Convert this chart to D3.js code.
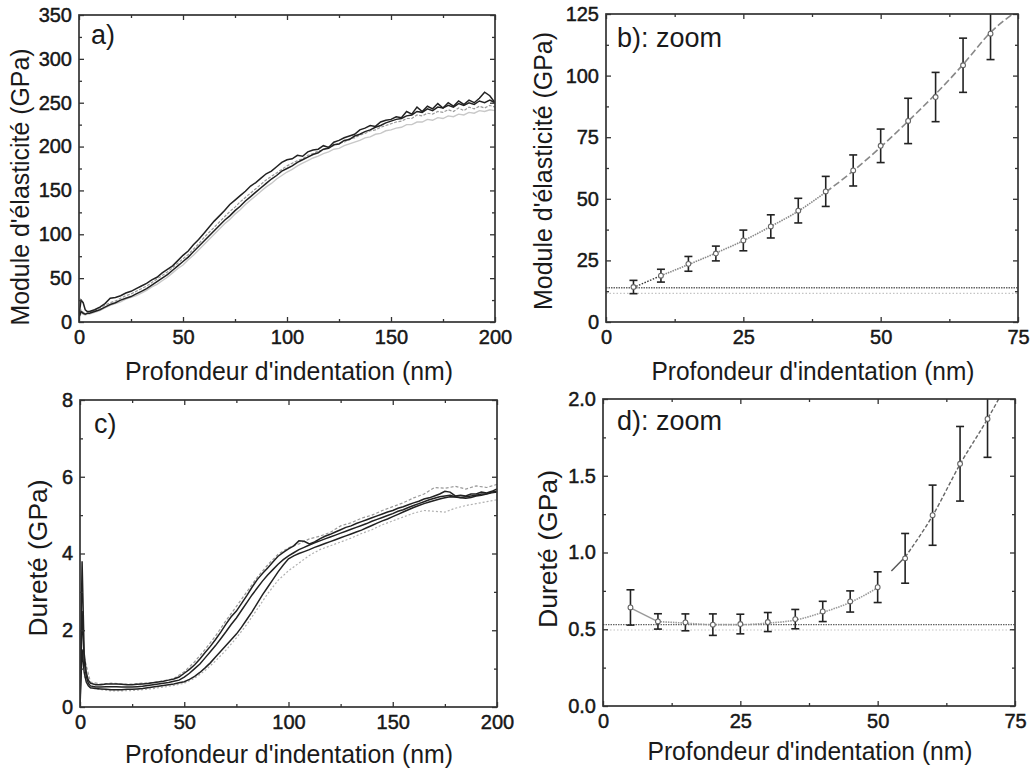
<!DOCTYPE html>
<html><head><meta charset="utf-8">
<script src="https://cdn.jsdelivr.net/npm/d3@7"></script>
<style>
body{margin:0;background:#fff}
text{font-family:"Liberation Sans",Arial,Helvetica,sans-serif;fill:#1a1a1a}
</style>
</head><body><svg id="c" width="1032" height="770"></svg>
<script>
// ---------- DATA ----------
const depthFine = [0,1,2,3,4,5,7.5,10,12.5,15,17.5,20,22.5,25,27.5,30,32.5,35,37.5,40,42.5,45,47.5,50,52.5,55,57.5,60,62.5,65,67.5,70,72.5,75,77.5,80,82.5,85,87.5,90,92.5,95,97.5,100,102.5,105,107.5,110,112.5,115,117.5,120,122.5,125,127.5,130,132.5,135,137.5,140,142.5,145,147.5,150,152.5,155,157.5,160,162.5,165,167.5,170,172.5,175,177.5,180,182.5,185,187.5,190,192.5,195,197.5,200];
const depthCoarse = [2,5,10,15,20,25,30,35,40,45,50,55,60,65,70,75,80,85,90,95,100,105,110,115,120,125,130,135,140,145,150,155,160,165,170,175,180,185,190,195,200];

// Panel a: modulus (GPa)
const modulusBlack1 = [8,25,22,14,12,12,14,17,21,27,28,30,33,35,38,41,44,48,51,56,60,64,70,76,81,88,94,101,108,115,121,127,134,139,144,149,155,159,164,169,172,177,182,185,186,190,189,194,196,197,201,199,205,207,210,212,214,219,221,224,223,228,230,231,234,233,240,237,245,240,246,243,249,244,250,246,252,248,253,250,255,262,258,250];
const modulusBlack2 = [5,12,10,9,10,10,12,14,17,20,22,25,27,29,32,35,38,42,46,50,54,59,64,69,74,80,86,92,98,104,110,116,121,127,132,138,143,148,153,158,163,167,172,175,178,182,185,188,191,193,197,198,202,203,207,208,212,214,217,219,222,224,227,229,231,232,235,236,240,239,243,241,245,244,247,245,249,247,250,248,252,250,253,250];
const modulusGray1 = [6,14,11,10,10,11,13,16,19,22,24,27,30,32,35,38,41,45,49,53,57,62,67,72,77,83,89,96,102,108,114,120,126,131,137,142,147,152,157,162,166,170,174,178,181,184,186,190,192,195,196,200,201,204,205,209,210,213,215,218,219,222,224,226,228,229,232,232,236,235,238,237,240,239,242,240,244,241,245,243,246,244,247,245];
const modulusGray2 = [4,10,9,8,9,9,11,13,16,19,21,23,26,28,30,33,36,40,43,47,51,56,61,65,71,76,82,88,94,100,106,112,117,123,128,134,139,144,149,154,158,163,167,171,174,178,181,184,187,189,192,194,197,198,201,203,205,207,210,211,214,215,218,219,221,222,225,225,228,228,231,230,233,232,235,234,237,236,239,238,241,240,242,241];

// Panel c: hardness (GPa)
const hardBlack1 = [0,3.8,1.4,0.9,0.7,0.62,0.58,0.58,0.6,0.6,0.6,0.59,0.58,0.58,0.59,0.6,0.61,0.63,0.65,0.67,0.7,0.73,0.78,0.88,0.98,1.1,1.25,1.42,1.58,1.76,1.95,2.16,2.35,2.5,2.7,2.9,3.12,3.32,3.48,3.62,3.78,3.93,4.03,4.12,4.2,4.33,4.32,4.25,4.3,4.38,4.45,4.5,4.56,4.62,4.68,4.72,4.78,4.83,4.88,4.93,4.98,5.03,5.08,5.12,5.18,5.22,5.27,5.32,5.36,5.42,5.45,5.5,5.55,5.62,5.6,5.5,5.52,5.5,5.55,5.55,5.6,5.58,5.62,5.68];
const hardBlack2 = [0,2.5,1.2,0.8,0.62,0.55,0.52,0.52,0.53,0.53,0.53,0.52,0.52,0.52,0.53,0.54,0.56,0.58,0.6,0.62,0.64,0.67,0.7,0.78,0.88,1.0,1.12,1.28,1.44,1.6,1.78,1.96,2.15,2.32,2.52,2.72,2.92,3.1,3.28,3.44,3.58,3.72,3.84,3.94,4.02,4.1,4.16,4.22,4.28,4.33,4.38,4.43,4.48,4.53,4.58,4.63,4.68,4.73,4.78,4.84,4.89,4.94,4.99,5.04,5.1,5.14,5.2,5.25,5.3,5.35,5.4,5.44,5.48,5.5,5.52,5.48,5.46,5.48,5.5,5.52,5.55,5.56,5.6,5.62];
const hardBlack3 = [0,1.5,0.9,0.65,0.55,0.5,0.48,0.47,0.46,0.45,0.45,0.45,0.46,0.46,0.47,0.48,0.5,0.52,0.54,0.56,0.58,0.6,0.63,0.66,0.72,0.8,0.9,1.02,1.15,1.3,1.45,1.6,1.75,1.9,2.08,2.28,2.48,2.7,2.92,3.12,3.32,3.52,3.7,3.86,3.94,4.0,4.05,4.1,4.16,4.21,4.26,4.31,4.36,4.41,4.46,4.51,4.56,4.61,4.67,4.73,4.79,4.85,4.9,4.96,5.02,5.08,5.14,5.2,5.25,5.3,5.34,5.38,5.42,5.45,5.48,5.47,5.45,5.44,5.46,5.5,5.52,5.55,5.58,5.6];
const hardGray1 = [1.3,0.65,0.6,0.62,0.6,0.6,0.62,0.64,0.68,0.74,0.92,1.18,1.5,1.85,2.25,2.62,3.0,3.38,3.7,3.98,4.15,4.25,4.38,4.45,4.55,4.72,4.8,4.92,5.0,5.12,5.22,5.32,5.45,5.55,5.72,5.7,5.75,5.68,5.76,5.72,5.8];
const hardGray2 = [0.8,0.5,0.45,0.42,0.42,0.43,0.45,0.48,0.52,0.56,0.62,0.75,0.95,1.2,1.48,1.8,2.15,2.55,2.95,3.3,3.55,3.75,3.95,4.1,4.2,4.3,4.4,4.52,4.62,4.75,4.85,4.95,5.05,5.12,5.1,5.08,5.18,5.25,5.3,5.35,5.4];

// Panel b: zoom on modulus, mean +/- error
const zoomDepth = [5,10,15,20,25,30,35,40,45,50,55,60,65,70];
const modulusMean = [14.2,18.8,23.6,27.8,33.1,38.8,45.2,53.0,61.5,71.5,81.6,91.3,104.2,117.0];
const modulusErr = [2.7,2.6,3.0,3.0,4.2,4.7,5.0,6.1,6.3,6.8,9.2,10.0,11.0,10.5];
const modulusFitDepth = [5,10,15,20,25,30,35,40,45,50,55,60,65,70,75];
const modulusFit = [14.0,18.8,23.3,28.0,33.0,38.8,45.0,52.7,61.3,71.0,81.5,92.5,104.5,117.5,126.5];
const modulusBaseline = [13.9,11.6];

// Panel d: zoom on hardness, mean +/- error
const hardMean = [0.642,0.551,0.545,0.530,0.534,0.547,0.566,0.616,0.681,0.774,0.962,1.243,1.578,1.87];
const hardErr = [0.115,0.05,0.055,0.07,0.064,0.062,0.063,0.066,0.069,0.1,0.162,0.196,0.243,0.25];
const hardFitDepth = [5,10,15,20,25,30,35,40,45,50,52.5,55,60,65,70,72.5];
const hardFit = [0.64,0.55,0.54,0.53,0.53,0.54,0.56,0.61,0.675,0.77,0.88,0.97,1.24,1.575,1.87,2.03];
const hardBaseline = [0.53,0.495];

const xTitle = "Profondeur d'indentation (nm)";
const yTitleModulus = "Module d'élasticité (GPa)";
const yTitleHard = "Dureté (GPa)";
const panelLabels = ["a)","b): zoom","c)","d): zoom"];

// ---------- DRAW ----------
const svg = d3.select("#c");
svg.append("rect").attr("width",1032).attr("height",770).attr("fill","#fff");

function makePanel(o){
  const x = d3.scaleLinear().domain(o.xd).range([o.l,o.r]);
  const y = d3.scaleLinear().domain(o.yd).range([o.b,o.t]);
  const g = svg.append("g");
  const cid = "clip"+o.id;
  svg.append("clipPath").attr("id",cid).append("rect")
    .attr("x",o.l).attr("y",o.t).attr("width",o.r-o.l).attr("height",o.b-o.t);
  const plot = g.append("g").attr("clip-path",`url(#${cid})`);

  const axisStyle = s=>{ s.select(".domain").remove(); s.selectAll("line").attr("stroke","#333").attr("stroke-width",1.3);
    s.selectAll("text").attr("font-size",20).attr("fill","#111").attr("stroke","#111").attr("stroke-width",0.45); };
  const addAx = (fn, sc, vals, len, fmt, tr, pad)=>{
    g.append("g").attr("transform",tr)
     .call(fn(sc).tickValues(vals).tickSizeInner(-len).tickSizeOuter(0).tickPadding(pad).tickFormat(fmt))
     .call(axisStyle);
  };
  addAx(d3.axisBottom,x,o.xMajor,5,o.xFmt,`translate(0,${o.b})`,8);
  addAx(d3.axisBottom,x,o.xMinor,3,()=>"",`translate(0,${o.b})`,8);
  addAx(d3.axisTop,x,o.xMajor,5,()=>"",`translate(0,${o.t})`,8);
  addAx(d3.axisTop,x,o.xMinor,3,()=>"",`translate(0,${o.t})`,8);
  addAx(d3.axisLeft,y,o.yMajor,5,o.yFmt,`translate(${o.l},0)`,7);
  addAx(d3.axisLeft,y,o.yMinor,3,()=>"",`translate(${o.l},0)`,7);
  addAx(d3.axisRight,y,o.yMajor,5,()=>"",`translate(${o.r},0)`,7);
  addAx(d3.axisRight,y,o.yMinor,3,()=>"",`translate(${o.r},0)`,7);

  g.append("rect").attr("x",o.l).attr("y",o.t).attr("width",o.r-o.l).attr("height",o.b-o.t)
    .attr("fill","none").attr("stroke","#333").attr("stroke-width",1.7);

  g.append("text").attr("x",o.xtX).attr("y",o.xtY).attr("text-anchor","middle")
    .attr("font-size",25).attr("textLength",o.xtLen).attr("lengthAdjust","spacingAndGlyphs").text(xTitle);
  g.append("text").attr("transform",`translate(${o.ytX},${o.ytY}) rotate(-90)`).attr("text-anchor","middle")
    .attr("font-size",25).attr("textLength",o.ytLen).attr("lengthAdjust","spacingAndGlyphs").text(o.yTitle);
  g.append("text").attr("x",o.l+o.labDx).attr("y",o.t+o.labDy).attr("font-size",27).text(o.label);
  return {x,y,plot};
}

function range(a,b,s){ return d3.range(a,b+s/2,s); }

// Panel a
const A = makePanel({id:"a",l:79,r:495,t:15,b:322,xd:[0,200],yd:[0,350],
  xMajor:range(0,200,50),xMinor:range(25,175,50),yMajor:range(0,350,50),yMinor:range(25,325,50),
  xFmt:d3.format("d"),yFmt:d3.format("d"),xtX:289,xtY:380,xtLen:328,ytX:29,ytY:187,ytLen:277,yTitle:yTitleModulus,
  label:panelLabels[0],labDx:12,labDy:29});
const lineA = vals => d3.line().x((d,i)=>A.x(depthFine[i])).y(d=>A.y(d))(vals);
A.plot.append("path").attr("d",lineA(modulusGray2)).attr("fill","none").attr("stroke","#c8c8c8").attr("stroke-width",1.4);
A.plot.append("path").attr("d",lineA(modulusGray1)).attr("fill","none").attr("stroke","#9a9a9a").attr("stroke-width",1.2).attr("stroke-dasharray","3,1.5");
A.plot.append("path").attr("d",lineA(modulusBlack2)).attr("fill","none").attr("stroke","#222").attr("stroke-width",1.5);
A.plot.append("path").attr("d",lineA(modulusBlack1)).attr("fill","none").attr("stroke","#222").attr("stroke-width",1.5);

// Panel c
const C = makePanel({id:"c",l:80,r:497,t:400,b:707,xd:[0,200],yd:[0,8],
  xMajor:range(0,200,50),xMinor:range(25,175,50),yMajor:range(0,8,2),yMinor:range(1,7,2),
  xFmt:d3.format("d"),yFmt:d3.format("d"),xtX:289,xtY:763,xtLen:328,ytX:47,ytY:558,ytLen:157,yTitle:yTitleHard,
  label:panelLabels[2],labDx:14,labDy:33});
const lineC = vals => d3.line().x((d,i)=>C.x(depthFine[i])).y(d=>C.y(d))(vals);
const lineC2 = vals => d3.line().x((d,i)=>C.x(depthCoarse[i])).y(d=>C.y(d))(vals);
C.plot.append("path").attr("d",lineC2(hardGray2)).attr("fill","none").attr("stroke","#b0b0b0").attr("stroke-width",1.2).attr("stroke-dasharray","2,2");
C.plot.append("path").attr("d",lineC2(hardGray1)).attr("fill","none").attr("stroke","#999").attr("stroke-width",1.2).attr("stroke-dasharray","3,2");
[hardBlack3,hardBlack2,hardBlack1].forEach(v=>{
  C.plot.append("path").attr("d",lineC(v)).attr("fill","none").attr("stroke","#222").attr("stroke-width",1.5);
});

// Panel b
const B = makePanel({id:"b",l:606,r:1018,t:14,b:322,xd:[0,75],yd:[0,125],
  xMajor:range(0,75,25),xMinor:range(12.5,62.5,25),yMajor:range(0,125,25),yMinor:range(12.5,112.5,25),
  xFmt:d3.format("d"),yFmt:d3.format("d"),xtX:813,xtY:380,xtLen:323,ytX:552,ytY:171,ytLen:278,yTitle:yTitleModulus,
  label:panelLabels[1],labDx:11,labDy:33});
// Panel d
const D = makePanel({id:"d",l:603,r:1015,t:399,b:706,xd:[0,75],yd:[0,2],
  xMajor:range(0,75,25),xMinor:range(12.5,62.5,25),yMajor:range(0,2,0.5),yMinor:range(0.25,1.75,0.5),
  xFmt:d3.format("d"),yFmt:d3.format(".1f"),xtX:810,xtY:760,xtLen:325,ytX:557,ytY:549,ytLen:158,yTitle:yTitleHard,
  label:panelLabels[3],labDx:14,labDy:31});

function zoomPanel(P, mean, err, fitX, fitY, segs, base){
  P.plot.append("line").attr("x1",P.x(0)).attr("x2",P.x(75)).attr("y1",P.y(base[1])).attr("y2",P.y(base[1]))
    .attr("stroke","#c4c4c4").attr("stroke-width",1.2).attr("stroke-dasharray","1.5,2");
  P.plot.append("line").attr("x1",P.x(0)).attr("x2",P.x(75)).attr("y1",P.y(base[0])).attr("y2",P.y(base[0]))
    .attr("stroke","#666").attr("stroke-width",1.4).attr("stroke-dasharray","1.5,1");
  segs.forEach(s=>{
    const pts = fitX.map((xv,i)=>[xv,fitY[i]]).filter(p=>p[0]>=s.from && p[0]<=s.to);
    P.plot.append("path").attr("d",d3.line().curve(d3.curveMonotoneX).x(p=>P.x(p[0])).y(p=>P.y(p[1]))(pts))
      .attr("fill","none").attr("stroke",s.color).attr("stroke-width",s.w).attr("stroke-dasharray",s.dash);
  });
  zoomDepth.forEach((xv,i)=>{
    const cx=P.x(xv), y1=P.y(mean[i]-err[i]), y2=P.y(mean[i]+err[i]);
    const eb = P.plot.append("g").attr("stroke","#222").attr("stroke-width",1.6);
    eb.append("line").attr("x1",cx).attr("x2",cx).attr("y1",y1).attr("y2",y2);
    eb.append("line").attr("x1",cx-4).attr("x2",cx+4).attr("y1",y1).attr("y2",y1);
    eb.append("line").attr("x1",cx-4).attr("x2",cx+4).attr("y1",y2).attr("y2",y2);
    P.plot.append("circle").attr("cx",cx).attr("cy",P.y(mean[i])).attr("r",2.4)
      .attr("fill","#fff").attr("stroke","#666").attr("stroke-width",1.1);
  });
}
zoomPanel(B, modulusMean, modulusErr, modulusFitDepth, modulusFit, [
  {from:5,to:10,color:"#333",w:1.4,dash:"1.5,1.5"},
  {from:10,to:40,color:"#888",w:1.6,dash:"1.5,1"},
  {from:40,to:75,color:"#888",w:1.6,dash:"7,3"}
], modulusBaseline);
zoomPanel(D, hardMean, hardErr, hardFitDepth, hardFit, [
  {from:5,to:10,color:"#999",w:1.4,dash:null},
  {from:10,to:50,color:"#999",w:1.6,dash:"1.5,1"},
  {from:52.5,to:55,color:"#555",w:1.4,dash:null},
  {from:55,to:72.5,color:"#666",w:1.4,dash:"4,2"}
], hardBaseline);
</script>
</body></html>
